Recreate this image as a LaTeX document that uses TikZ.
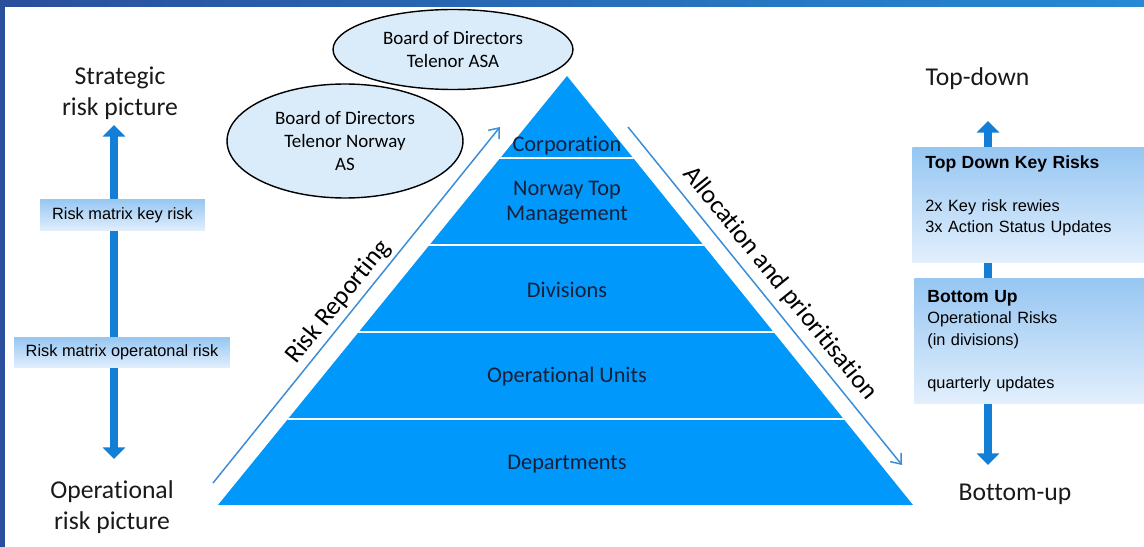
\documentclass[tikz,border=0pt]{standalone}
\usepackage{fontspec}
\setmainfont{Carlito}[Ligatures=NoCommon]
\newfontfamily\arialfont{Liberation Sans}
\usetikzlibrary{arrows.meta,shapes.geometric}

\definecolor{frameL}{RGB}{42,79,156}
\definecolor{frameR}{RGB}{38,138,212}
\definecolor{pyrblue}{RGB}{0,152,250}
\definecolor{pyrtext}{RGB}{22,32,58}
\definecolor{boardfill}{RGB}{218,236,250}
\definecolor{thinblue}{RGB}{58,142,216}
\definecolor{bigblue}{RGB}{18,126,214}
\definecolor{boxtop}{RGB}{150,198,242}
\definecolor{boxbot}{RGB}{226,239,252}

\newcommand{\boxhead}[1]{{\fontsize{10pt}{12.2pt}\selectfont\bfseries #1}}

\tikzset{
	sidelabel/.style={align=center, text=black!90, font=\fontsize{14.6pt}{17.6pt}\selectfont},
	tierlabel/.style={align=center, text=pyrtext, font=\fontsize{12.7pt}{14.2pt}\selectfont},
	board/.style={ellipse, draw=black, line width=0.8pt, fill=boardfill, align=center, inner sep=0pt, font=\fontsize{10.8pt}{13.1pt}\selectfont},
	flowtext/.style={sloped, above, text=black, font=\fontsize{14.7pt}{16pt}\selectfont},
	thinarrow/.style={thinblue, line width=0.85pt, -{Straight Barb[length=5pt,width=8pt]}},
	bigarrow/.style={bigblue, line width=5.1pt, {Triangle[width=12.5pt,length=6.6pt]}-{Triangle[width=12.5pt,length=6.6pt]}},
	matrixbox/.style={top color=boxtop, bottom color=boxbot, inner sep=0pt, font=\arialfont\fontsize{9.3pt}{12.2pt}\selectfont},
	riskbox/.style={top color=boxtop, bottom color=boxbot, anchor=north west, inner xsep=0.26cm, inner ysep=0pt, align=left, font=\arialfont\fontsize{9.3pt}{12.2pt}\selectfont}
}

\begin{document}
\begin{tikzpicture}[x=0.02cm, y=-0.02cm]
			%%%%% START %%%%%
			\useasboundingbox (0,0) rectangle (1144,547);
			
			\shade[left color=frameL, right color=frameR] (0,0) rectangle (1144,7);
			\fill[frameL] (0,0) rectangle (5,547);
			
			% left side
			\node[sidelabel] (strat) at (120,93) {Strategic\\risk picture};
			\node[sidelabel] (oper) at (112,507) {Operational\\risk picture};
			\coordinate (ltop) at (114,125);
			\coordinate (lbot) at (114,459);
			\draw[bigarrow] (ltop) -- (lbot);
			\node[matrixbox, minimum width=3.3cm, minimum height=0.64cm] (keyrisk) at (122.5,215) {Risk matrix key risk};
			\node[matrixbox, minimum width=4.32cm, minimum height=0.62cm] (oprisk) at (122,352.5) {Risk matrix operatonal risk};
			
			% pyramid
			\fill[pyrblue] (567,76) -- (913,505) -- (218,505) -- cycle;
			\begin{scope}
				\clip (567,76) -- (913,505) -- (218,505) -- cycle;
				\foreach \y in {158,245,332,419}
					\draw[white, line width=1.7pt] (200,\y) -- (940,\y);
			\end{scope}
			\node[tierlabel] (corp) at (567,145.5) {Corporation};
			\node[tierlabel] (topmgmt) at (567,202.5) {Norway Top\\Management};
			\node[tierlabel] (div) at (567,290) {Divisions};
			\node[tierlabel] (units) at (567,377) {Operational Units};
			\node[tierlabel] (dept) at (567,464) {Departments};
			
			% boards
			\node[board, minimum width=4.8cm, minimum height=1.6cm] (asa) at (453,49.5) {Board of Directors\\Telenor ASA};
			\node[board, minimum width=4.72cm, minimum height=2.28cm] (norway) at (345,141) {Board of Directors\\Telenor Norway\\AS};
			
			% reporting / allocation
			\coordinate (rep1) at (213,483);
			\coordinate (rep2) at (500,127);
			\draw[thinarrow] (rep1) -- node[flowtext, pos=0.48, above=-1pt] {Risk Reporting} (rep2);
			\coordinate (alo1) at (628,127);
			\coordinate (alo2) at (902,465);
			\draw[thinarrow] (alo1) -- node[flowtext, pos=0.5, above=1pt] {Allocation and prioritisation} (alo2);
			
			% right side
			\node[sidelabel] (topdown) at (977.5,79) {Top-down};
			\node[sidelabel] (bottomup) at (1015,494) {Bottom-up};
			\coordinate (rtop) at (988,121);
			\coordinate (rbot) at (988,465);
			\draw[bigarrow] (rtop) -- (rbot);
			\node[riskbox, minimum height=2.3cm, text width=4.12cm] (tdbox) at (912,147) {\boxhead{Top Down Key Risks}\\ \mbox{}\\ 2x Key risk rewies\\ 3x Action Status Updates\\ \mbox{}};
			\node[riskbox, minimum height=2.5cm, text width=4.08cm] (bubox) at (914,278) {\boxhead{Bottom Up}\\ Operational Risks\\ (in divisions)\\ \mbox{}\\ quarterly updates};
			
			%%%%% END %%%%%
\end{tikzpicture}
\end{document}
